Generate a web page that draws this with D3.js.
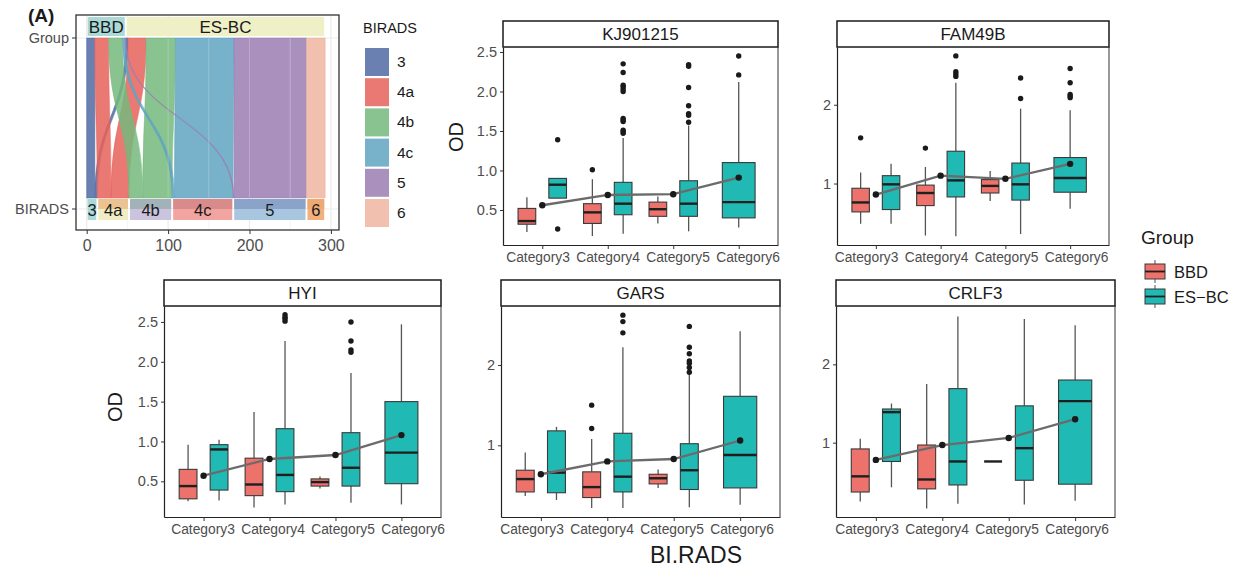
<!DOCTYPE html>
<html>
<head>
<meta charset="utf-8">
<script src="https://cdn.jsdelivr.net/npm/d3@7"></script>
<style>
  body { margin: 0; background: #fff; }
  svg { font-family: "Liberation Sans", Arial, sans-serif; }
</style>
</head>
<body>
<div id="chart"></div>
<script>
// ---- panel A: alluvial ----
var biradsLevels = ["3", "4a", "4b", "4c", "5", "6"];
var bbdCounts = [10, 17, 17, 3, 1, 0];
var esbcCounts = [3, 22, 36, 72, 89, 23];
var alluvialTicks = [0, 100, 200, 300];

// ---- boxplots: [category, group, lowerWhisker, q1, median, q3, upperWhisker] ----
var categories = ["Category3", "Category4", "Category5", "Category6"];
var groups = ["BBD", "ES-BC"];

var kjBoxes = [
  [0, 0, 0.22, 0.32, 0.36, 0.52, 0.66],
  [0, 1, 0.65, 0.65, 0.82, 0.90, 0.90],
  [1, 0, 0.17, 0.33, 0.47, 0.58, 0.89],
  [1, 1, 0.20, 0.44, 0.58, 0.85, 1.41],
  [2, 0, 0.33, 0.42, 0.51, 0.60, 0.67],
  [2, 1, 0.23, 0.42, 0.58, 0.87, 1.57],
  [3, 1, 0.28, 0.40, 0.60, 1.10, 2.12]
];
var kjOutliers = [
  [0, 1, 1.39], [0, 1, 0.26], [1, 0, 1.01],
  [1, 1, 2.35], [1, 1, 2.24], [1, 1, 2.08], [1, 1, 2.06], [1, 1, 2.03], [1, 1, 2.00],
  [1, 1, 1.66], [1, 1, 1.64], [1, 1, 1.62], [1, 1, 1.51], [1, 1, 1.49], [1, 1, 1.47],
  [2, 1, 2.34], [2, 1, 2.32], [2, 1, 2.05], [2, 1, 1.82], [2, 1, 1.72], [2, 1, 1.70], [2, 1, 1.61],
  [3, 1, 2.45], [3, 1, 2.21]
];
var kjMeans = [0.56, 0.69, 0.70, 0.91];

var famBoxes = [
  [0, 0, 0.49, 0.64, 0.76, 0.94, 1.14],
  [0, 1, 0.49, 0.67, 0.99, 1.10, 1.25],
  [1, 0, 0.34, 0.72, 0.88, 0.98, 1.21],
  [1, 1, 0.33, 0.83, 1.04, 1.41, 2.28],
  [2, 0, 0.78, 0.88, 0.97, 1.05, 1.16],
  [2, 1, 0.36, 0.79, 0.99, 1.26, 1.95],
  [3, 1, 0.68, 0.89, 1.07, 1.33, 1.93]
];
var famOutliers = [
  [0, 0, 1.58], [1, 0, 1.45],
  [1, 1, 2.62], [1, 1, 2.42], [1, 1, 2.39], [1, 1, 2.36],
  [2, 1, 2.34], [2, 1, 2.08],
  [3, 1, 2.46], [3, 1, 2.28], [3, 1, 2.13], [3, 1, 2.11], [3, 1, 2.09]
];
var famMeans = [0.86, 1.10, 1.06, 1.25];

var hyiBoxes = [
  [0, 0, 0.25, 0.28, 0.44, 0.65, 0.96],
  [0, 1, 0.26, 0.39, 0.90, 0.96, 1.02],
  [1, 0, 0.17, 0.32, 0.46, 0.79, 1.37],
  [1, 1, 0.21, 0.37, 0.58, 1.16, 2.26],
  [2, 0, 0.41, 0.44, 0.49, 0.53, 0.56],
  [2, 1, 0.23, 0.44, 0.67, 1.11, 1.86],
  [3, 1, 0.21, 0.47, 0.86, 1.50, 2.47]
];
var hyiOutliers = [
  [1, 1, 2.59], [1, 1, 2.56], [1, 1, 2.54], [1, 1, 2.51],
  [2, 1, 2.50], [2, 1, 2.26], [2, 1, 2.15], [2, 1, 2.12]
];
var hyiMeans = [0.57, 0.78, 0.83, 1.08];

var garsBoxes = [
  [0, 0, 0.37, 0.42, 0.58, 0.69, 0.91],
  [0, 1, 0.32, 0.41, 0.66, 1.18, 1.23],
  [1, 0, 0.22, 0.35, 0.48, 0.67, 1.08],
  [1, 1, 0.22, 0.42, 0.61, 1.15, 2.22],
  [2, 0, 0.47, 0.52, 0.59, 0.64, 0.70],
  [2, 1, 0.23, 0.45, 0.69, 1.02, 1.89],
  [3, 1, 0.26, 0.47, 0.88, 1.61, 2.42]
];
var garsOutliers = [
  [1, 0, 1.50], [1, 0, 1.21],
  [1, 1, 2.62], [1, 1, 2.54], [1, 1, 2.40],
  [2, 1, 2.48], [2, 1, 2.22], [2, 1, 2.14], [2, 1, 2.05], [2, 1, 2.02], [2, 1, 1.97], [2, 1, 1.91]
];
var garsMeans = [0.64, 0.80, 0.83, 1.06];

var crlfBoxes = [
  [0, 0, 0.25, 0.37, 0.57, 0.92, 1.05],
  [0, 1, 0.43, 0.76, 1.39, 1.43, 1.50],
  [1, 0, 0.16, 0.41, 0.53, 0.97, 1.75],
  [1, 1, 0.22, 0.46, 0.76, 1.69, 2.61],
  [2, 0, 0.76, 0.76, 0.76, 0.76, 0.76],
  [2, 1, 0.21, 0.52, 0.93, 1.47, 2.58],
  [3, 1, 0.26, 0.47, 1.53, 1.80, 2.50]
];
var crlfOutliers = [];
var crlfMeans = [0.78, 0.97, 1.06, 1.30];

var boxColors = ["#ec726b", "#20b9b4"];
var flowColors = ["#4f6aa3", "#e6625b", "#74b87c", "#5fa4c1", "#9b7eb1", "#f0b5a1"];

var svg = d3.select("#chart").append("svg")
  .attr("width", 1240).attr("height", 571);

// ================= panel A =================
(function () {
  var left = 76, right = 339, top = 15, bottom = 230;
  var yGroup = 38, yBirads = 209, flowTop = 38, flowBot = 198;
  var x = d3.scaleLinear().domain([0, 300]).range([86.7, 330.9]);

  var g = svg.append("g");
  g.append("rect").attr("x", left).attr("y", top)
    .attr("width", right - left).attr("height", bottom - top).attr("fill", "#fff");
  // grid
  [50, 150, 250].forEach(function (v) {
    g.append("line").attr("x1", x(v)).attr("x2", x(v)).attr("y1", top).attr("y2", bottom)
      .attr("stroke", "#f2f2f2").attr("stroke-width", 0.8);
  });
  alluvialTicks.forEach(function (v) {
    g.append("line").attr("x1", x(v)).attr("x2", x(v)).attr("y1", top).attr("y2", bottom)
      .attr("stroke", "#ebebeb").attr("stroke-width", 1.2);
  });
  [yGroup, yBirads].forEach(function (yy) {
    g.append("line").attr("x1", left).attr("x2", right).attr("y1", yy).attr("y2", yy)
      .attr("stroke", "#ebebeb").attr("stroke-width", 1.2);
  });

  // stack positions
  var bbdTotal = d3.sum(bbdCounts);
  var flows = [];
  var topPos = [0, bbdTotal];
  var botPos = 0;
  biradsLevels.forEach(function (lv, i) {
    [bbdCounts[i], esbcCounts[i]].forEach(function (n, gi) {
      flows.push({ level: i, group: gi, n: n, t0: topPos[gi], b0: botPos });
      topPos[gi] += n;
      botPos += n;
    });
  });

  var ym = (flowTop + flowBot) / 2;
  function flowPath(f) {
    var t0 = x(f.t0), t1 = x(f.t0 + f.n), b0 = x(f.b0), b1 = x(f.b0 + f.n);
    return "M" + t0 + "," + flowTop +
      "C" + t0 + "," + ym + " " + b0 + "," + ym + " " + b0 + "," + flowBot +
      "L" + b1 + "," + flowBot +
      "C" + b1 + "," + ym + " " + t1 + "," + ym + " " + t1 + "," + flowTop + "Z";
  }
  g.selectAll(".flow")
    .data(flows.filter(function (f) { return f.n > 0; }))
    .enter().append("path")
    .attr("class", "flow")
    .attr("d", flowPath)
    .attr("fill", function (f) { return flowColors[f.level]; })
    .attr("fill-opacity", 0.85)
    .attr("stroke", function (f) { return flowColors[f.level]; })
    .attr("stroke-opacity", 0.85)
    .attr("stroke-width", 0.6);

  // light lines over flows
  [100, 150, 200, 250].forEach(function (v) {
    g.append("line").attr("x1", x(v)).attr("x2", x(v)).attr("y1", flowTop).attr("y2", flowBot)
      .attr("stroke", "#fff").attr("stroke-opacity", 0.25).attr("stroke-width", 1);
  });

  // group strata labels
  var esbcTotal = d3.sum(esbcCounts);
  var groupBoxes = [
    { name: "BBD", a: 0, b: bbdTotal, fill: "#a9dad7" },
    { name: "ES-BC", a: bbdTotal, b: bbdTotal + esbcTotal, fill: "#eff0c6" }
  ];
  groupBoxes.forEach(function (d) {
    g.append("rect").attr("x", x(d.a) + 1).attr("y", 17)
      .attr("width", x(d.b) - x(d.a) - 2).attr("height", 19)
      .attr("fill", d.fill);
    g.append("text").attr("x", (x(d.a) + x(d.b)) / 2).attr("y", 33)
      .attr("text-anchor", "middle").attr("font-size", 17).attr("fill", "#1a1a1a")
      .text(d.name);
  });

  // BIRADS strata labels
  var stratTop = ["#a9dad7", "#ebc390", "#a3b1b9", "#d98b8b", "#8aa4c9", "#eea972"];
  var stratBot = ["#a9dad7", "#f0edc4", "#cac4df", "#f2a4a1", "#a9c6e1", "#f1b07d"];
  var acc = 0;
  biradsLevels.forEach(function (lv, i) {
    var n = bbdCounts[i] + esbcCounts[i];
    var a = x(acc) + 1, w = x(acc + n) - x(acc) - 2;
    g.append("rect").attr("x", a).attr("y", 199).attr("width", w).attr("height", 21).attr("fill", stratBot[i]);
    g.append("rect").attr("x", a).attr("y", 199).attr("width", w).attr("height", 10).attr("fill", stratTop[i]);
    g.append("text").attr("x", a + w / 2).attr("y", 216)
      .attr("text-anchor", "middle").attr("font-size", 16.5).attr("fill", "#1a1a1a")
      .text(lv);
    acc += n;
  });

  g.append("rect").attr("x", left).attr("y", top)
    .attr("width", right - left).attr("height", bottom - top)
    .attr("fill", "none").attr("stroke", "#333").attr("stroke-width", 1.3);

  // axes
  var xAxis = g.append("g").attr("transform", "translate(0," + bottom + ")")
    .call(d3.axisBottom(x).tickValues(alluvialTicks).tickSize(4).tickSizeOuter(0));
  xAxis.select(".domain").remove();
  xAxis.selectAll("line").attr("stroke", "#333");
  xAxis.selectAll("text").attr("font-size", 16).attr("fill", "#4d4d4d")
    .attr("font-family", "Liberation Sans, Arial, sans-serif").attr("dy", "0.85em");

  [["Group", yGroup], ["BIRADS", yBirads]].forEach(function (d) {
    g.append("line").attr("x1", left - 4).attr("x2", left).attr("y1", d[1]).attr("y2", d[1]).attr("stroke", "#333");
    g.append("text").attr("x", left - 7).attr("y", d[1] + 5).attr("text-anchor", "end")
      .attr("font-size", 14.5).attr("fill", "#4d4d4d").text(d[0]);
  });

  g.append("text").attr("x", 28).attr("y", 22).attr("font-size", 19).attr("font-weight", "bold")
    .attr("fill", "#1a1a1a").text("(A)");

  // legend
  g.append("text").attr("x", 363).attr("y", 33).attr("font-size", 14.5).attr("fill", "#1a1a1a").text("BIRADS");
  biradsLevels.forEach(function (lv, i) {
    var yy = 48 + i * 30.2;
    g.append("rect").attr("x", 365).attr("y", yy).attr("width", 24).attr("height", 28)
      .attr("fill", flowColors[i]).attr("fill-opacity", 0.85);
    g.append("text").attr("x", 397).attr("y", yy + 19).attr("font-size", 15.5).attr("fill", "#1a1a1a").text(lv);
  });
})();

// ================= boxplot panels =================
var panels = [
  { name: "KJ901215", boxes: kjBoxes, outliers: kjOutliers, means: kjMeans,
    x0: 503, x1: 778, y0: 47, y1: 245, domain: [0.057, 2.563], ticks: [0.5, 1, 1.5, 2, 2.5], fmt: ".1f", labShift: 2 },
  { name: "FAM49B", boxes: famBoxes, outliers: famOutliers, means: famMeans,
    x0: 837, x1: 1109, y0: 47, y1: 245, domain: [0.22, 2.733], ticks: [1, 2], fmt: "d", labShift: -2 },
  { name: "HYI", boxes: hyiBoxes, outliers: hyiOutliers, means: hyiMeans,
    x0: 164, x1: 441, y0: 306, y1: 517, domain: [0.052, 2.70], ticks: [0.5, 1, 1.5, 2, 2.5], fmt: ".1f", labShift: 5 },
  { name: "GARS", boxes: garsBoxes, outliers: garsOutliers, means: garsMeans,
    x0: 501, x1: 780, y0: 306, y1: 517, domain: [0.108, 2.734], ticks: [1, 2], fmt: "d", labShift: -4 },
  { name: "CRLF3", boxes: crlfBoxes, outliers: crlfOutliers, means: crlfMeans,
    x0: 836, x1: 1115, y0: 306, y1: 517, domain: [0.051, 2.745], ticks: [1, 2], fmt: "d", labShift: -4 }
];

panels.forEach(function (p) {
  var g = svg.append("g");
  var x = d3.scaleLinear().domain([0.4, 4.6]).range([p.x0, p.x1]);
  var y = d3.scaleLinear().domain(p.domain).range([p.y1, p.y0]);
  var unit = x(1) - x(0);

  // strip
  g.append("rect").attr("x", p.x0).attr("y", p.y0 - 26).attr("width", p.x1 - p.x0).attr("height", 26)
    .attr("fill", "#fff").attr("stroke", "#1a1a1a").attr("stroke-width", 1.5);
  g.append("text").attr("x", (p.x0 + p.x1) / 2).attr("y", p.y0 - 7).attr("text-anchor", "middle")
    .attr("font-size", 17).attr("fill", "#1a1a1a").text(p.name);

  // right border
  g.append("line").attr("x1", p.x1).attr("x2", p.x1).attr("y1", p.y0).attr("y2", p.y1)
    .attr("stroke", "#333").attr("stroke-width", 1);

  var yAxis = g.append("g").attr("transform", "translate(" + p.x0 + ",0)")
    .call(d3.axisLeft(y).tickValues(p.ticks).tickFormat(d3.format(p.fmt)).tickSize(3).tickSizeOuter(0));
  yAxis.select(".domain").attr("stroke", "#222").attr("stroke-width", 1.2);
  yAxis.selectAll(".tick line").attr("stroke", "#333");
  yAxis.selectAll("text").attr("font-size", 14.5).attr("fill", "#4d4d4d")
    .attr("font-family", "Liberation Sans, Arial, sans-serif");

  var xAxis = g.append("g").attr("transform", "translate(0," + p.y1 + ")")
    .call(d3.axisBottom(x).tickValues([1, 2, 3, 4]).tickFormat(function (d) { return categories[d - 1]; })
      .tickSize(4).tickSizeOuter(0));
  xAxis.select(".domain").attr("stroke", "#222").attr("stroke-width", 1.2);
  xAxis.selectAll(".tick line").attr("stroke", "#333");
  // labels sit a little wider apart than the ticks in the source figure
  var mid = (x(1) + x(4)) / 2 + p.labShift;
  xAxis.selectAll("text").attr("font-size", 13.8).attr("fill", "#4d4d4d")
    .attr("font-family", "Liberation Sans, Arial, sans-serif")
    .attr("x", function (d) { return mid + (d - 2.5) * 70 - x(d); });

  // box geometry
  function countIn(cat) { return p.boxes.filter(function (b) { return b[0] === cat; }).length; }
  function center(b) {
    if (countIn(b[0]) === 1) return x(b[0] + 1);
    return x(b[0] + 1) + (b[1] === 0 ? -0.235 : 0.235) * unit;
  }
  function width(b) { return (countIn(b[0]) === 1 ? 0.5 : 0.27) * unit; }

  var bx = g.selectAll(".box").data(p.boxes).enter().append("g");
  bx.append("line").attr("x1", center).attr("x2", center)
    .attr("y1", function (b) { return y(b[2]); }).attr("y2", function (b) { return y(b[3]); })
    .attr("stroke", "#555").attr("stroke-width", 1.3);
  bx.append("line").attr("x1", center).attr("x2", center)
    .attr("y1", function (b) { return y(b[5]); }).attr("y2", function (b) { return y(b[6]); })
    .attr("stroke", "#555").attr("stroke-width", 1.3);
  bx.append("rect")
    .attr("x", function (b) { return center(b) - width(b) / 2; })
    .attr("y", function (b) { return y(b[5]); })
    .attr("width", width)
    .attr("height", function (b) { return y(b[3]) - y(b[5]); })
    .attr("fill", function (b) { return boxColors[b[1]]; })
    .attr("stroke", function (b) { return b[5] === b[3] ? "none" : "#3a3a3a"; })
    .attr("stroke-width", 1.1);
  bx.append("line")
    .attr("x1", function (b) { return center(b) - width(b) / 2; })
    .attr("x2", function (b) { return center(b) + width(b) / 2; })
    .attr("y1", function (b) { return y(b[4]); }).attr("y2", function (b) { return y(b[4]); })
    .attr("stroke", "#1f1f1f").attr("stroke-width", 2.4);

  g.selectAll(".out").data(p.outliers).enter().append("circle")
    .attr("cx", center)
    .attr("cy", function (o) { return y(o[2]); })
    .attr("r", 2.7).attr("fill", "#1a1a1a");

  var line = d3.line().x(function (d, i) { return x(i + 1); }).y(function (d) { return y(d); });
  g.append("path").datum(p.means).attr("d", line)
    .attr("fill", "none").attr("stroke", "#6b6b6b").attr("stroke-width", 2.3);
  g.selectAll(".mean").data(p.means).enter().append("circle")
    .attr("cx", function (d, i) { return x(i + 1); })
    .attr("cy", function (d) { return y(d); })
    .attr("r", 3.2).attr("fill", "#1a1a1a");
});

// axis titles
svg.append("text").attr("transform", "translate(463,137) rotate(-90)").attr("text-anchor", "middle")
  .attr("font-size", 20).attr("fill", "#1a1a1a").text("OD");
svg.append("text").attr("transform", "translate(122,407) rotate(-90)").attr("text-anchor", "middle")
  .attr("font-size", 20).attr("fill", "#1a1a1a").text("OD");
svg.append("text").attr("x", 696).attr("y", 563).attr("text-anchor", "middle")
  .attr("font-size", 23).attr("fill", "#1a1a1a").text("BI.RADS");

// group legend
var lg = svg.append("g");
lg.append("text").attr("x", 1141).attr("y", 244).attr("font-size", 19).attr("fill", "#1a1a1a").text("Group");
groups.forEach(function (gname, i) {
  var yy = 262 + i * 25;
  lg.append("line").attr("x1", 1155).attr("x2", 1155).attr("y1", yy - 2).attr("y2", yy + 21)
    .attr("stroke", "#555").attr("stroke-width", 1);
  lg.append("rect").attr("x", 1145).attr("y", yy + 2).attr("width", 20).attr("height", 15)
    .attr("fill", boxColors[i]).attr("stroke", "#3a3a3a").attr("stroke-width", 1);
  lg.append("line").attr("x1", 1145).attr("x2", 1165).attr("y1", yy + 9.5).attr("y2", yy + 9.5)
    .attr("stroke", "#1f1f1f").attr("stroke-width", 1.8);
  lg.append("text").attr("x", 1174).attr("y", yy + 16).attr("font-size", 16.5).attr("fill", "#1a1a1a")
    .text(gname === "ES-BC" ? "ES\u2212BC" : gname);
});
</script>
</body>
</html>
